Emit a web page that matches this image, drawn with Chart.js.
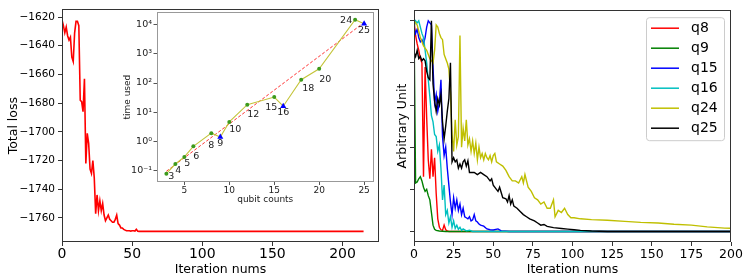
<!DOCTYPE html>
<html>
<head>
<meta charset="utf-8">
<script src="https://cdn.jsdelivr.net/npm/chart.js@4.4.1/dist/chart.umd.min.js"></script>
<style>
  html, body { margin: 0; padding: 0; background: #fff; }
  #wrap { position: relative; width: 748px; height: 279px; overflow: hidden; }
  canvas { position: absolute; }
  #lossChart { left: 0; top: 0; }
  #timeChart { left: 100px; top: 0; }
  #unitChart { left: 382px; top: 0; }
</style>
</head>
<body>
<div id="wrap">
  <canvas id="lossChart" width="382" height="279"></canvas>
  <canvas id="timeChart" width="280" height="215"></canvas>
  <canvas id="unitChart" width="366" height="279"></canvas>
</div>
<script>
// Total loss per iteration (left panel)
const lossIters = [0, 1, 2, 3, 4, 5, 6, 7, 8, 9, 10, 11, 12, 13, 14, 15, 16, 17, 18, 19,
    20, 21, 22, 23, 24, 25, 26, 27, 28, 29, 30, 31, 32, 33, 34, 35, 36, 37, 38, 39,
    40, 41, 42, 43, 44, 45, 46, 47, 48, 49, 50, 51, 52, 53, 54, 55, 60, 100, 150, 215];
const lossValues = [-1622, -1626, -1631, -1627, -1633, -1636, -1634, -1648, -1651, -1631,
    -1623, -1623, -1626, -1678, -1679, -1686, -1663, -1722, -1701, -1708,
    -1726, -1729, -1720, -1732, -1757, -1744, -1755, -1748, -1755, -1750,
    -1758, -1762, -1760, -1758, -1761, -1762, -1763, -1763, -1761, -1758,
    -1764, -1765, -1767, -1767, -1768, -1768.5, -1769, -1769, -1769, -1769.2,
    -1769, -1769, -1769.2, -1768, -1769.3, -1769.4, -1769.4, -1769.4, -1769.4, -1769.4];
const lossTicks = [-1760, -1740, -1720, -1700, -1680, -1660, -1640, -1620];
const iterTicksLeft = [0, 50, 100, 150, 200];

// Inset: time used vs qubit counts
const qubitCounts = [3, 4, 5, 6, 8, 9, 10, 12, 15, 16, 18, 20, 24, 25];
const timeUsed = [0.077, 0.165, 0.29, 0.67, 1.9, 1.4, 4.6, 18, 33, 16, 130, 310, 15000, 10800];
const triangleQubits = [9, 16, 25];
const fitQubits = [3, 25];
const fitTimes = [0.093, 12000];
const timeTicks = [0.1, 1, 10, 100, 1000, 10000];
const qubitTicks = [5, 10, 15, 20, 25];

// Right panel: normalised curves
const seriesNames = ['q8', 'q9', 'q15', 'q16', 'q24', 'q25'];
const q8Iters = [0, 1, 2, 3, 4, 5, 6, 7, 8, 9, 10, 11, 12, 13, 14, 15, 16, 17, 18, 19, 20, 21, 22, 200];
const q8Values = [1.0, 0.93, 0.89, 0.86, 0.82, 0.80, 0.26, 0.78, 0.54, 0.34, 0.25, 0.39, 0.26, 0.35,
    0.18, 0.06, 0.02, 0.008, 0.005, 0.03, 0.008, 0.003, 0.0, 0.0];
const q9Iters = [0, 1, 2, 3, 4, 5, 6, 7, 8, 9, 10, 11, 12, 13, 14, 16, 20, 200];
const q9Values = [1.0, 0.23, 0.235, 0.25, 0.26, 0.24, 0.21, 0.19, 0.2, 0.17, 0.15, 0.09, 0.03, 0.01,
    0.005, 0.002, 0.0, 0.0];
const q15Iters = [0, 1, 2, 3, 4, 5, 6, 7, 8, 9, 10, 11, 12, 13, 14, 15, 16, 17, 18, 19, 20, 21,
    22, 23, 24, 25, 26, 27, 28, 29, 30, 31, 32, 33, 34, 35, 36, 37, 38, 39, 40, 41, 42,
    44, 46, 48, 50, 53, 55, 60, 200];
const q15Values = [0.97, 0.94, 0.96, 0.92, 0.90, 0.91, 0.89, 0.92, 0.97, 1.0, 0.99, 0.98, 0.78,
    0.61, 0.65, 0.57, 0.61, 0.72, 0.45, 0.36, 0.40, 0.30, 0.22, 0.14, 0.08, 0.16, 0.11, 0.15,
    0.10, 0.13, 0.08, 0.11, 0.07, 0.065, 0.06, 0.07, 0.05, 0.055, 0.08, 0.05, 0.045, 0.035, 0.03,
    0.025, 0.012, 0.008, 0.007, 0.012, 0.003, 0.0, 0.0];
const q16Iters = [0, 1, 2, 3, 4, 5, 6, 7, 8, 9, 10, 11, 12, 13, 14, 15, 16, 17, 18, 19, 20, 21,
    22, 23, 24, 25, 26, 27, 28, 29, 30, 31, 33, 35, 37, 200];
const q16Values = [0.97, 1.0, 0.99, 1.0, 0.97, 0.94, 0.92, 0.86, 0.80, 0.72, 0.64, 0.55, 0.52,
    0.46, 0.45, 0.38, 0.41, 0.30, 0.15, 0.22, 0.08, 0.10, 0.04, 0.07, 0.02, 0.05, 0.015, 0.03,
    0.01, 0.02, 0.005, 0.012, 0.003, 0.006, 0.0, 0.0];
const q24Iters = [0, 1, 2, 3, 4, 5, 6, 7, 8, 9, 10, 11, 12, 13, 14, 15, 16, 17, 18, 19, 20, 21,
    22, 23, 24, 25, 26, 27, 28, 29, 30, 31, 32, 33, 34, 35, 36, 37, 38, 39, 40, 41, 42, 43,
    44, 45, 46, 47, 48, 49, 50, 51, 52, 54, 56, 58, 60, 62, 64, 66, 68, 69, 70, 72, 74, 76,
    78, 80, 82, 84, 86, 88, 89, 91, 93, 95, 97, 99, 101, 105, 112, 122, 133, 143, 154, 164,
    175, 185, 196, 200];
const q24Values = [1.0, 0.99, 0.98, 0.95, 0.92, 0.90, 0.88, 0.87, 0.86, 0.84, 0.82, 0.81, 0.80,
    0.86, 0.98, 0.97, 0.94, 0.92, 0.91, 0.84, 0.82, 0.80, 0.77, 0.66, 0.46, 0.38, 0.53, 0.41,
    0.45, 0.93, 0.40, 0.49, 0.43, 0.53, 0.41, 0.44, 0.38, 0.43, 0.37, 0.42, 0.34, 0.40, 0.35,
    0.37, 0.34, 0.37, 0.35, 0.34, 0.36, 0.33, 0.36, 0.37, 0.33, 0.32, 0.31, 0.29, 0.26, 0.24,
    0.24, 0.23, 0.26, 0.23, 0.27, 0.21, 0.19, 0.16, 0.15, 0.13, 0.14, 0.11, 0.11, 0.15, 0.07,
    0.10, 0.09, 0.11, 0.08, 0.065, 0.065, 0.06, 0.056, 0.053, 0.048, 0.043, 0.04, 0.034, 0.03,
    0.022, 0.016, 0.015];
const q25Iters = [0, 1, 2, 3, 4, 5, 6, 7, 8, 9, 10, 11, 12, 13, 14, 15, 16, 17, 18, 19, 20, 21,
    22, 23, 24, 25, 26, 27, 28, 29, 30, 31, 32, 33, 34, 35, 36, 38, 40, 42, 44, 46, 48, 49,
    50, 52, 53, 54, 56, 58, 59, 60, 61, 62, 63, 65, 67, 69, 71, 73, 76, 78, 80, 82, 84, 88,
    93, 97, 101, 105, 112, 122, 200];
const q25Values = [0.85, 0.83, 0.86, 0.82, 0.83, 0.81, 0.82, 0.81, 0.76, 0.73, 0.72, 1.0, 0.70,
    0.62, 0.57, 0.63, 0.60, 0.65, 0.52, 0.44, 0.50, 0.57, 0.63, 0.80, 0.33, 0.35, 0.33, 0.34,
    0.30, 0.32, 0.30, 0.33, 0.34, 0.31, 0.335, 0.28, 0.28, 0.28, 0.27, 0.28, 0.27, 0.26, 0.24,
    0.25, 0.22, 0.20, 0.19, 0.21, 0.16, 0.155, 0.14, 0.17, 0.13, 0.15, 0.12, 0.11, 0.095, 0.08,
    0.07, 0.06, 0.05, 0.04, 0.03, 0.033, 0.024, 0.018, 0.014, 0.011, 0.008, 0.005, 0.002, 0.0, 0.0];
const unitTicks = [0, 0.2, 0.4, 0.6, 0.8, 1.0];
const iterTicksRight = [0, 25, 50, 75, 100, 125, 150, 175, 200];

Chart.defaults.font.family = "'DejaVu Sans', sans-serif";
Chart.defaults.color = '#000';
Chart.defaults.animation = false;

function toPoints(xs, ys) {
    return xs.map(function(x, i) { return { x: x, y: ys[i] }; });
}

function fixedTicks(values) {
    return function(scale) {
        scale.ticks = values.map(function(v) { return { value: v }; });
    };
}

function framePlugin(color) {
    return {
        id: 'frame',
        afterDraw: function(chart) {
            const a = chart.chartArea;
            const ctx = chart.ctx;
            ctx.save();
            ctx.strokeStyle = color;
            ctx.lineWidth = 1;
            const l = Math.round(a.left) + 0.5, t = Math.round(a.top) + 0.5;
            const r = Math.round(a.right) - 0.5, b = Math.round(a.bottom) - 0.5;
            ctx.strokeRect(l, t, r - l, b - t);
            ctx.restore();
        }
    };
}

function tickGrid(len, color) {
    return { display: true, drawOnChartArea: false, drawTicks: true, tickLength: len, color: color, lineWidth: 1 };
}

// ---------- left panel ----------
new Chart(document.getElementById('lossChart'), {
    type: 'line',
    data: {
        datasets: [{
            data: toPoints(lossIters, lossValues),
            borderColor: '#ff0000',
            borderWidth: 1.6,
            pointRadius: 0,
            tension: 0
        }]
    },
    options: {
        responsive: false,
        layout: { padding: { left: 0, top: 7, right: 3, bottom: 0 } },
        plugins: { legend: { display: false }, tooltip: { enabled: false } },
        scales: {
            x: {
                type: 'linear', min: 0, max: 226,
                afterBuildTicks: fixedTicks(iterTicksLeft),
                afterFit: function(scale) { scale.height = 37; },
                grid: tickGrid(4, '#333'),
                border: { display: false },
                ticks: { font: { size: 14 }, padding: 0, maxRotation: 0 },
                title: { display: true, text: 'Iteration nums', font: { size: 12.5 }, padding: { top: 0, bottom: 2 } }
            },
            y: {
                type: 'linear', min: -1776.8, max: -1614.6,
                afterBuildTicks: fixedTicks(lossTicks),
                afterFit: function(scale) { scale.width = 62; },
                grid: tickGrid(4, '#333'),
                border: { display: false },
                ticks: {
                    font: { size: 10.5 }, padding: 3,
                    callback: function(v) { return String(v).replace('-', '\u2212'); }
                },
                title: { display: true, text: 'Total loss', font: { size: 12.5 }, padding: { top: 6, bottom: 0 } }
            }
        }
    },
    plugins: [framePlugin('#333')]
});

// ---------- inset ----------
const labelOffsets = [[5, 3], [3, 7], [3, 7], [3, 10], [0, 12], [0, 7], [6, 8], [6, 10],
    [-3, 10], [0, 6], [7, 9], [6, 11], [-9, 1], [0, 7]];

const insetBackground = {
    id: 'insetBackground',
    beforeDraw: function(chart) {
        const a = chart.chartArea;
        chart.ctx.save();
        chart.ctx.fillStyle = '#fff';
        chart.ctx.fillRect(a.left, a.top, a.right - a.left, a.bottom - a.top);
        chart.ctx.restore();
    }
};

const qubitLabels = {
    id: 'qubitLabels',
    afterDatasetsDraw: function(chart) {
        const ctx = chart.ctx;
        const xs = chart.scales.x, ys = chart.scales.y;
        ctx.save();
        ctx.font = "9.5px 'DejaVu Sans'";
        ctx.fillStyle = '#222';
        ctx.textAlign = 'center';
        ctx.textBaseline = 'middle';
        qubitCounts.forEach(function(q, i) {
            const px = xs.getPixelForValue(q) + labelOffsets[i][0];
            const py = ys.getPixelForValue(timeUsed[i]) + labelOffsets[i][1];
            ctx.fillText(String(q), px, py);
        });
        ctx.restore();
    }
};

const supDigits = { '-': '\u207B', '0': '\u2070', '1': '\u00B9', '2': '\u00B2', '3': '\u00B3', '4': '\u2074' };

const dotQubits = qubitCounts.filter(function(q) { return triangleQubits.indexOf(q) < 0; });
const dotTimes = dotQubits.map(function(q) { return timeUsed[qubitCounts.indexOf(q)]; });
const triTimes = triangleQubits.map(function(q) { return timeUsed[qubitCounts.indexOf(q)]; });

new Chart(document.getElementById('timeChart'), {
    type: 'line',
    data: {
        datasets: [{
            data: toPoints(triangleQubits, triTimes),
            showLine: false,
            pointStyle: 'triangle',
            pointRadius: 3.5,
            pointBackgroundColor: '#0000ff',
            pointBorderColor: '#0000ff',
            pointBorderWidth: 0
        }, {
            data: toPoints(dotQubits, dotTimes),
            showLine: false,
            pointRadius: 2,
            pointBackgroundColor: '#3c9a1c',
            pointBorderColor: '#3c9a1c',
            pointBorderWidth: 0
        }, {
            data: toPoints(qubitCounts, timeUsed),
            borderColor: '#c4c43a',
            borderWidth: 1.1,
            pointRadius: 0,
            tension: 0
        }, {
            data: toPoints(fitQubits, fitTimes),
            borderColor: '#ff3030',
            borderWidth: 1,
            borderDash: [3, 2],
            pointRadius: 0
        }]
    },
    options: {
        responsive: false,
        layout: { padding: { left: 0, top: 12.3, right: 6, bottom: 0 } },
        plugins: { legend: { display: false }, tooltip: { enabled: false } },
        scales: {
            x: {
                type: 'linear', min: 1.9, max: 26.1,
                afterBuildTicks: fixedTicks(qubitTicks),
                afterFit: function(scale) { scale.height = 33; },
                grid: tickGrid(3, '#555'),
                border: { display: false },
                ticks: { font: { size: 9 }, color: '#222', padding: 0, maxRotation: 0 },
                title: { display: true, text: 'qubit counts', font: { size: 9 }, color: '#222', padding: { top: 0, bottom: 10 } }
            },
            y: {
                type: 'logarithmic', min: 0.0398, max: 26900,
                afterBuildTicks: fixedTicks(timeTicks),
                afterFit: function(scale) { scale.width = 56.5; },
                grid: tickGrid(3, '#555'),
                border: { display: false },
                ticks: {
                    font: { size: 9.5 }, color: '#222', padding: 1.5,
                    callback: function(v) {
                        const e = String(Math.round(Math.log10(v)));
                        return '10' + e.split('').map(function(c) { return supDigits[c]; }).join('');
                    }
                },
                title: { display: true, text: 'time used', font: { size: 9 }, color: '#222', padding: { top: 22, bottom: 0 } }
            }
        }
    },
    plugins: [insetBackground, qubitLabels, framePlugin('#999')]
});

// ---------- right panel ----------
const seriesColors = ['#ff0000', '#008000', '#0000ff', '#00bfbf', '#bfbf00', '#000000'];
const seriesIters = [q8Iters, q9Iters, q15Iters, q16Iters, q24Iters, q25Iters];
const seriesValues = [q8Values, q9Values, q15Values, q16Values, q24Values, q25Values];

const boxLegend = {
    id: 'boxLegend',
    afterDraw: function(chart) {
        const ctx = chart.ctx, a = chart.chartArea;
        const x0 = a.right - 85, y0 = a.top + 7, w = 78, h = 123;
        ctx.save();
        ctx.beginPath();
        ctx.roundRect(x0 + 0.5, y0 + 0.5, w, h, 3);
        ctx.fillStyle = 'rgba(255,255,255,0.8)';
        ctx.fill();
        ctx.strokeStyle = '#cccccc';
        ctx.lineWidth = 1;
        ctx.stroke();
        ctx.font = "14px 'DejaVu Sans'";
        ctx.textBaseline = 'middle';
        ctx.textAlign = 'left';
        chart.data.datasets.forEach(function(ds, i) {
            const y = y0 + 11 + i * 20;
            ctx.beginPath();
            ctx.strokeStyle = ds.borderColor;
            ctx.lineWidth = 1.5;
            ctx.moveTo(x0 + 5, y);
            ctx.lineTo(x0 + 33, y);
            ctx.stroke();
            ctx.fillStyle = '#000';
            ctx.fillText(ds.label, x0 + 45, y);
        });
        ctx.restore();
    }
};

new Chart(document.getElementById('unitChart'), {
    type: 'line',
    data: {
        datasets: seriesNames.map(function(name, i) {
            return {
                label: name,
                data: toPoints(seriesIters[i], seriesValues[i]),
                borderColor: seriesColors[i],
                borderWidth: 1.4,
                pointRadius: 0,
                tension: 0,
                order: seriesNames.length - i
            };
        })
    },
    options: {
        responsive: false,
        layout: { padding: { left: 0, top: 7, right: 17, bottom: 0 } },
        plugins: { legend: { display: false }, tooltip: { enabled: false } },
        scales: {
            x: {
                type: 'linear', min: 0, max: 200,
                afterBuildTicks: fixedTicks(iterTicksRight),
                afterFit: function(scale) { scale.height = 37; },
                grid: tickGrid(4, '#333'),
                border: { display: false },
                ticks: { font: { size: 12.5 }, padding: 1, maxRotation: 0 },
                title: { display: true, text: 'Iteration nums', font: { size: 12.5 }, padding: { top: 0, bottom: 2 } }
            },
            y: {
                type: 'linear', min: -0.05, max: 1.05,
                afterBuildTicks: fixedTicks(unitTicks),
                afterFit: function(scale) { scale.width = 32; },
                grid: tickGrid(4, '#333'),
                border: { display: false },
                ticks: { callback: function() { return ''; } },
                title: { display: true, text: 'Arbitrary Unit', font: { size: 12.5 }, padding: { top: 13, bottom: 0 } }
            }
        }
    },
    plugins: [boxLegend, framePlugin('#333')]
});
</script>
</body>
</html>
